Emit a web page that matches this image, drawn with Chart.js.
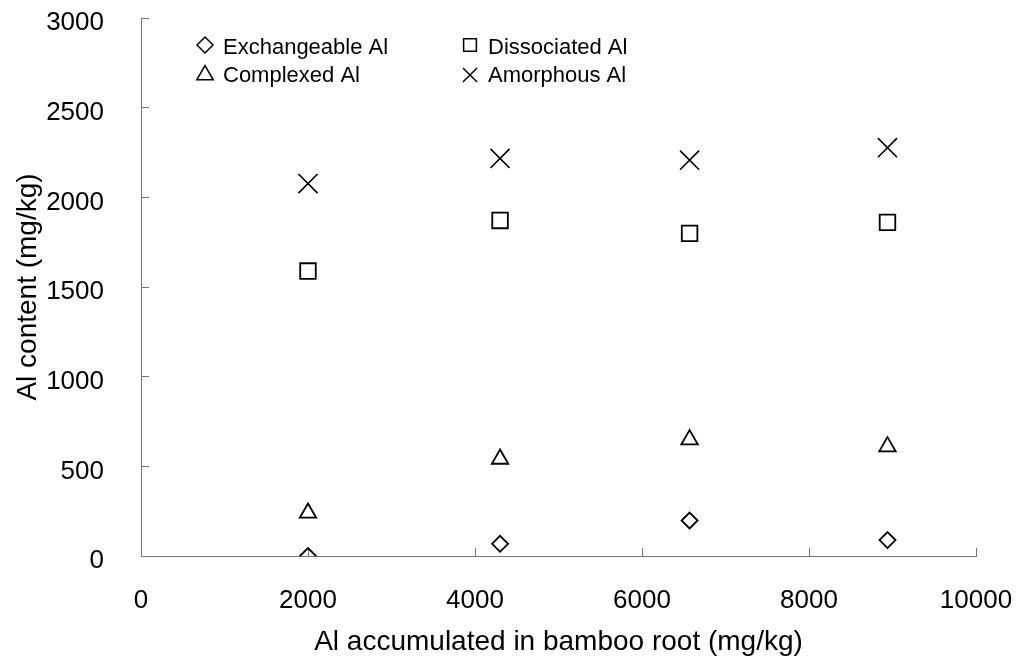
<!DOCTYPE html>
<html>
<head>
<meta charset="utf-8">
<script src="https://cdn.jsdelivr.net/npm/chart.js@4.4.1/dist/chart.umd.min.js"></script>
<style>
  html, body { margin: 0; padding: 0; background: #fff; }
  #wrap { width: 1016px; height: 660px; }
</style>
</head>
<body>
<div id="wrap"><canvas id="c" width="1016" height="660"></canvas></div>
<script>
// Al accumulated in bamboo root (mg/kg), one value per sampling plot
const rootAl = [2000, 4300, 6570, 8940];

// Al fractions in soil (mg/kg)
const exchangeableAl = [0, 68, 198, 89];
const dissociatedAl  = [1589, 1871, 1799, 1860];
const complexedAl    = [240, 541, 649, 610];
const amorphousAl    = [2077, 2217, 2207, 2277];

const seriesNames = ['Exchangeable Al', 'Dissociated Al', 'Complexed Al', 'Amorphous Al'];
const xTicks = [0, 2000, 4000, 6000, 8000, 10000];
const yTicks = [0, 500, 1000, 1500, 2000, 2500, 3000];

const FONT = '"Liberation Sans", Arial, sans-serif';
const AXIS_GRAY = '#767676';

function pairs(ys) {
  return rootAl.map((x, i) => ({ x: x, y: ys[i] }));
}

function series(label, ys, style, radius, legendRadius, width) {
  return {
    label: label,
    data: pairs(ys),
    pointStyle: style,
    pointRadius: radius,
    pointHoverRadius: radius,
    pointBorderWidth: width,
    pointBorderColor: '#000',
    pointBackgroundColor: 'rgba(255,255,255,0)',
    borderColor: '#000',
    backgroundColor: 'rgba(255,255,255,0)',
    showLine: false,
    legendRadius: legendRadius
  };
}

// Two-column legend drawn inside the plot area
const gridLegend = {
  id: 'gridLegend',
  afterDraw(chart) {
    const { ctx, chartArea } = chart;
    const colX = [64, 329];
    const markY = [27, 57];
    const textY = [36, 64];
    ctx.save();
    ctx.font = '22px ' + FONT;
    ctx.textAlign = 'left';
    ctx.textBaseline = 'alphabetic';
    chart.data.datasets.forEach((ds, i) => {
      const col = i % 2, row = Math.floor(i / 2);
      const x = chartArea.left + colX[col];
      ctx.strokeStyle = '#000';
      ctx.fillStyle = 'rgba(255,255,255,0)';
      ctx.lineWidth = 1.5;
      Chart.helpers.drawPoint(ctx, {
        pointStyle: ds.pointStyle,
        radius: ds.legendRadius,
        borderWidth: 1.5,
        rotation: 0
      }, x, chartArea.top + markY[row]);
      ctx.fillStyle = '#000';
      ctx.fillText(ds.label, x + 18, chartArea.top + textY[row]);
    });
    ctx.restore();
  }
};

new Chart(document.getElementById('c'), {
  type: 'scatter',
  data: {
    datasets: [
      series(seriesNames[0], exchangeableAl, 'rectRot', 8, 8, 1.8),
      series(seriesNames[1], dissociatedAl, 'rect', 11, 9, 1.8),
      series(seriesNames[2], complexedAl, 'triangle', 9.5, 9.5, 1.8),
      series(seriesNames[3], amorphousAl, 'crossRot', 13.5, 10, 1.6)
    ]
  },
  options: {
    responsive: false,
    animation: false,
    devicePixelRatio: 1,
    layout: { padding: { top: 18, right: 40, left: 0, bottom: 0 } },
    plugins: {
      legend: { display: false },
      tooltip: { enabled: false }
    },
    scales: {
      x: {
        type: 'linear',
        min: xTicks[0],
        max: xTicks[xTicks.length - 1],
        afterBuildTicks: (s) => { s.ticks = xTicks.map(v => ({ value: v })); },
        afterFit: (s) => { s.height = 104; s.paddingLeft = 0; s.paddingRight = 0; },
        border: { display: true, color: AXIS_GRAY, width: 1 },
        grid: { drawOnChartArea: false, drawTicks: true, tickLength: -8, color: AXIS_GRAY },
        ticks: {
          color: '#000',
          padding: 37,
          maxRotation: 0,
          callback: (v) => String(v),
          font: { family: FONT, size: 26 }
        },
        title: {
          display: true,
          text: 'Al accumulated in bamboo root (mg/kg)',
          color: '#000',
          font: { family: FONT, size: 28 },
          padding: { top: 0, bottom: 1 }
        }
      },
      y: {
        type: 'linear',
        min: yTicks[0],
        max: yTicks[yTicks.length - 1],
        afterBuildTicks: (s) => { s.ticks = yTicks.map(v => ({ value: v })); },
        afterFit: (s) => { s.width = 141; s.paddingTop = 0; s.paddingBottom = 0; },
        border: { display: true, color: AXIS_GRAY, width: 1 },
        grid: { drawOnChartArea: false, drawTicks: true, tickLength: -8, color: AXIS_GRAY },
        ticks: {
          color: '#000',
          padding: 45,
          labelOffset: 5,
          callback: (v) => String(v),
          font: { family: FONT, size: 26 }
        },
        title: {
          display: true,
          text: 'Al content (mg/kg)',
          color: '#000',
          font: { family: FONT, size: 28 },
          padding: { top: 11, bottom: 0 }
        }
      }
    }
  },
  plugins: [gridLegend]
});
</script>
</body>
</html>
